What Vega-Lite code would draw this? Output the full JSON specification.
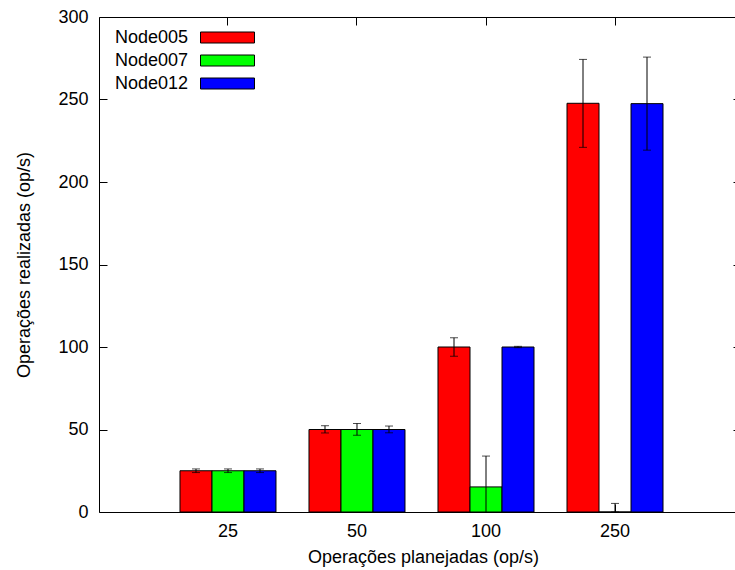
{
  "$schema": "https://vega.github.io/schema/vega-lite/v6.json",
  "autosize": {"type": "none"},
  "padding": {"left": 99, "top": 17, "right": 0, "bottom": 58},
  "width": 636,
  "height": 495,
  "background": "white",
  "config": {
    "font": "Liberation Sans",
    "view": {"stroke": null},
    "axis": {
      "labelFont": "Liberation Sans",
      "titleFont": "Liberation Sans",
      "labelFontSize": 18,
      "titleFontSize": 18,
      "titleFontWeight": "normal",
      "labelColor": "black",
      "titleColor": "black",
      "domainColor": "black",
      "tickColor": "black",
      "domainWidth": 1,
      "tickWidth": 1,
      "grid": false
    },
    "legend": {
      "labelFont": "Liberation Sans",
      "labelFontSize": 18,
      "labelColor": "black"
    }
  },
  "data": {
    "values": [
      {"planned": "25", "node": "Node005", "value": 25, "low": 23.9, "high": 26.1},
      {"planned": "25", "node": "Node007", "value": 25, "low": 23.9, "high": 26.1},
      {"planned": "25", "node": "Node012", "value": 25, "low": 23.9, "high": 26.1},
      {"planned": "50", "node": "Node005", "value": 50, "low": 47.9, "high": 52.3},
      {"planned": "50", "node": "Node007", "value": 50, "low": 46.5, "high": 53.7},
      {"planned": "50", "node": "Node012", "value": 50, "low": 48.0, "high": 52.1},
      {"planned": "100", "node": "Node005", "value": 100, "low": 94.4, "high": 105.6},
      {"planned": "100", "node": "Node007", "value": 15.2, "low": -3.6, "high": 33.9},
      {"planned": "100", "node": "Node012", "value": 100, "low": 99.6, "high": 100.4},
      {"planned": "250", "node": "Node005", "value": 247.7, "low": 221.0, "high": 274.3},
      {"planned": "250", "node": "Node007", "value": 0, "low": 0, "high": 5.2},
      {"planned": "250", "node": "Node012", "value": 247.5, "low": 219.3, "high": 275.7}
    ]
  },
  "layer": [
    {
      "mark": {"type": "bar", "stroke": "black", "strokeWidth": 1, "opacity": 1},
      "encoding": {
        "x": {
          "field": "planned", "type": "nominal",
          "scale": {"domain": ["25", "50", "100", "250"], "paddingInner": 0, "paddingOuter": 0.465, "align": 0.5375},
          "axis": {
            "orient": "bottom", "labelAngle": 0, "tickSize": -8, "labelPadding": 18,
            "title": "Operações planejadas (op/s)", "titlePadding": 8, "titleX": 324
          }
        },
        "xOffset": {
          "field": "node", "type": "nominal",
          "scale": {"domain": ["Node005", "Node007", "Node012"], "paddingInner": 0, "paddingOuter": 0.5156}
        },
        "y": {
          "field": "value", "type": "quantitative",
          "scale": {"domain": [0, 300], "nice": false, "zero": true},
          "axis": {
            "orient": "left", "values": [0, 50, 100, 150, 200, 250, 300], "tickSize": -8, "labelPadding": 19,
            "title": "Operações realizadas (op/s)", "titlePadding": 24
          }
        },
        "color": {
          "field": "node", "type": "nominal",
          "scale": {"domain": ["Node005", "Node007", "Node012"], "range": ["#ff0000", "#00ff00", "#0000ff"]},
          "legend": {
            "title": null, "orient": "none", "legendX": 119.5, "legendY": 11.5, "padding": 0,
            "symbolType": "M-4.909,-1H4.909V1H-4.909Z", "symbolSize": 121,
            "symbolStrokeColor": "black", "symbolStrokeWidth": 1, "symbolOpacity": 1,
            "labelAlign": "right", "labelOffset": -48.5, "rowPadding": 5
          }
        }
      }
    },
    {
      "mark": {"type": "rule", "color": "black", "strokeWidth": 1, "clip": true},
      "encoding": {
        "x": {
          "field": "planned", "type": "nominal",
          "axis": {"orient": "top", "labels": false, "title": null, "tickSize": -8}
        },
        "xOffset": {"field": "node", "type": "nominal"},
        "y": {
          "field": "low", "type": "quantitative",
          "axis": {"orient": "right", "labels": false, "title": null, "tickSize": -11, "offset": 9, "values": [0, 50, 100, 150, 200, 250, 300]}
        },
        "y2": {"field": "high"}
      }
    },
    {
      "transform": [{"fold": ["low", "high"], "as": ["end", "capval"]}],
      "mark": {"type": "tick", "color": "black", "thickness": 1, "size": 8, "clip": true, "orient": "horizontal"},
      "encoding": {
        "x": {"field": "planned", "type": "nominal", "axis": null},
        "xOffset": {"field": "node", "type": "nominal"},
        "y": {"field": "capval", "type": "quantitative", "axis": null}
      }
    }
  ],
  "resolve": {"axis": {"x": "independent", "y": "independent"}}
}
